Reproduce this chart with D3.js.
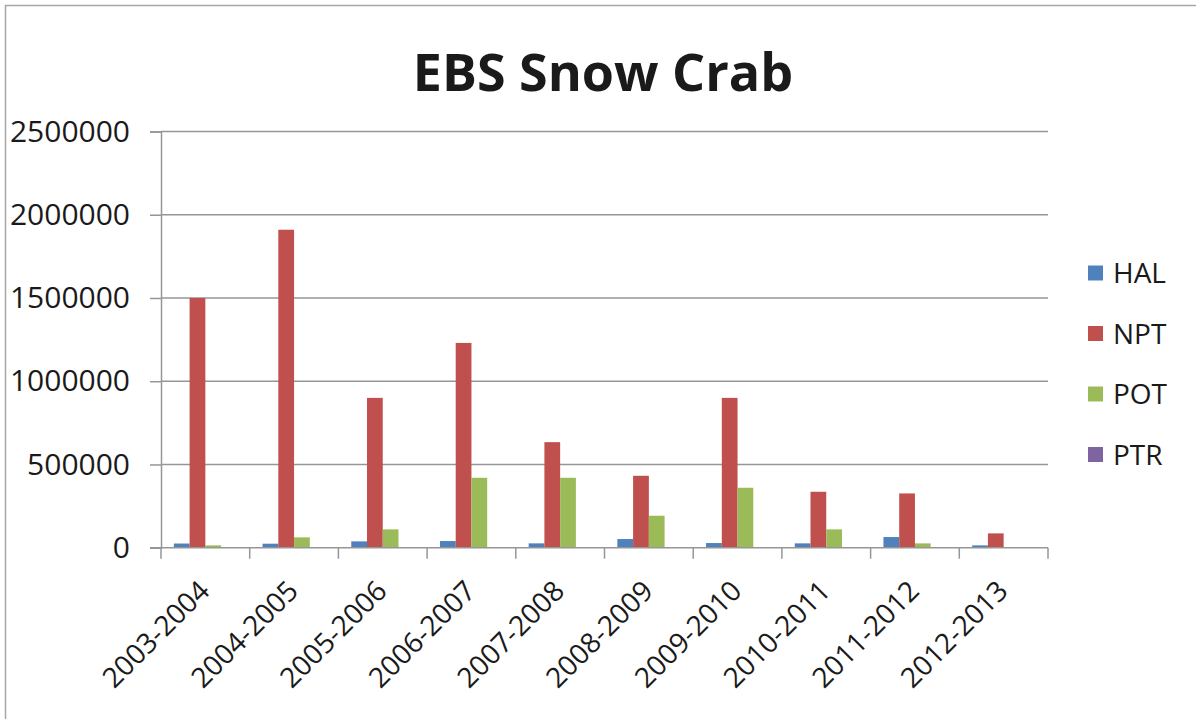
<!DOCTYPE html>
<html>
<head>
<meta charset="utf-8">
<script src="https://cdn.jsdelivr.net/npm/d3@7"></script>
<style>
  html, body { margin: 0; padding: 0; background: #fff; }
  svg { display: block; }
  text { font-family: "Open Sans", "Noto Sans", sans-serif; fill: #1a1a1a; }
</style>
</head>
<body>
<svg id="chart" width="1196" height="719"></svg>
<script>
// Snow crab removals by sector and season
const categories = ["2003-2004", "2004-2005", "2005-2006", "2006-2007", "2007-2008",
                    "2008-2009", "2009-2010", "2010-2011", "2011-2012", "2012-2013"];
const seriesNames = ["HAL", "NPT", "POT", "PTR"];
const HAL = [25000, 24000, 38000, 40000, 26000, 52000, 28000, 26000, 64000, 14000];
const NPT = [1500000, 1910000, 900000, 1230000, 634000, 432000, 900000, 336000, 326000, 86000];
const POT = [14000, 62000, 110000, 420000, 420000, 192000, 360000, 110000, 26000, 0];
const PTR = [0, 0, 0, 0, 0, 0, 0, 0, 0, 0];
const yTicks = [0, 500000, 1000000, 1500000, 2000000, 2500000];
const colors = ["#4F81BD", "#C0504D", "#9BBB59", "#8064A2"];

const seriesValues = [HAL, NPT, POT, PTR];
const rows = categories.map((c, i) => ({
  cat: c,
  vals: seriesNames.map((s, j) => ({ key: s, value: seriesValues[j][i] }))
}));

const svg = d3.select("#chart");

// outer chart frame
svg.append("rect")
  .attr("x", 5.5).attr("y", 5.5).attr("width", 1196).attr("height", 730)
  .attr("fill", "none").attr("stroke", "#a6a6a6").attr("stroke-width", 1.5);

const plot = { left: 161, right: 1048, top: 131.5, bottom: 547.7 };

const x0 = d3.scaleBand().domain(categories)
  .range([plot.left, plot.right]).paddingInner(0.29).paddingOuter(0.145);
const x1 = d3.scaleBand().domain(seriesNames).range([0, x0.bandwidth()]).padding(0);
const y = d3.scaleLinear().domain([0, 2500000]).range([plot.bottom, plot.top]);

// horizontal gridlines
svg.append("g")
  .selectAll("line").data(yTicks.filter(t => t > 0)).join("line")
  .attr("x1", plot.left).attr("x2", plot.right)
  .attr("y1", d => y(d)).attr("y2", d => y(d))
  .attr("stroke", "#969696").attr("stroke-width", 1.5);

// y axis
const yAxis = svg.append("g")
  .attr("transform", `translate(${plot.left},0)`)
  .call(d3.axisLeft(y).tickValues(yTicks).tickSize(11).tickPadding(20).tickFormat(d3.format("d")));
yAxis.select(".domain").attr("stroke", "#969696").attr("stroke-width", 1.5);
yAxis.selectAll(".tick line").attr("stroke", "#969696").attr("stroke-width", 1.5);
yAxis.selectAll(".tick text")
  .attr("font-size", 30).attr("font-family", "'Open Sans', sans-serif").attr("fill", "#1a1a1a");

// bars
svg.append("g")
  .selectAll("g").data(rows).join("g")
  .attr("transform", d => `translate(${x0(d.cat)},0)`)
  .selectAll("rect").data(d => d.vals).join("rect")
  .attr("x", d => x1(d.key))
  .attr("width", x1.bandwidth())
  .attr("y", d => y(d.value))
  .attr("height", d => y(0) - y(d.value))
  .attr("fill", (d, i) => colors[i]);

// x axis with category dividers
const xAxisG = svg.append("g").attr("transform", `translate(0,${plot.bottom})`);
xAxisG.append("line")
  .attr("x1", plot.left - 11).attr("x2", plot.right)
  .attr("stroke", "#969696").attr("stroke-width", 1.5);
const dividers = categories.map(c => x0(c) - x0.step() * x0.paddingOuter()).concat([plot.right]);
xAxisG.selectAll("line.div").data(dividers).join("line")
  .attr("class", "div")
  .attr("x1", d => d).attr("x2", d => d).attr("y1", 0).attr("y2", 11)
  .attr("stroke", "#969696").attr("stroke-width", 1.5);
xAxisG.selectAll("text").data(categories).join("text")
  .attr("transform", d => `translate(${x0(d) + x0.bandwidth() / 2 - 8},${31}) rotate(-45)`)
  .attr("text-anchor", "end")
  .attr("dy", "0.7em")
  .attr("font-size", 28)
  .text(d => d);

// title
svg.append("text")
  .attr("x", 603).attr("y", 91)
  .attr("text-anchor", "middle")
  .attr("font-size", 52).attr("font-weight", "bold")
  .attr("fill", "#000")
  .text("EBS Snow Crab");

// legend
const legend = svg.append("g").attr("transform", "translate(1088,273)");
const item = legend.selectAll("g").data(seriesNames).join("g")
  .attr("transform", (d, i) => `translate(0,${i * 60.5})`);
item.append("rect")
  .attr("x", 0).attr("y", -7.5).attr("width", 15).attr("height", 15)
  .attr("fill", (d, i) => colors[i]);
item.append("text")
  .attr("x", 25).attr("dy", "0.36em")
  .attr("font-size", 28)
  .text(d => d);
</script>
</body>
</html>
